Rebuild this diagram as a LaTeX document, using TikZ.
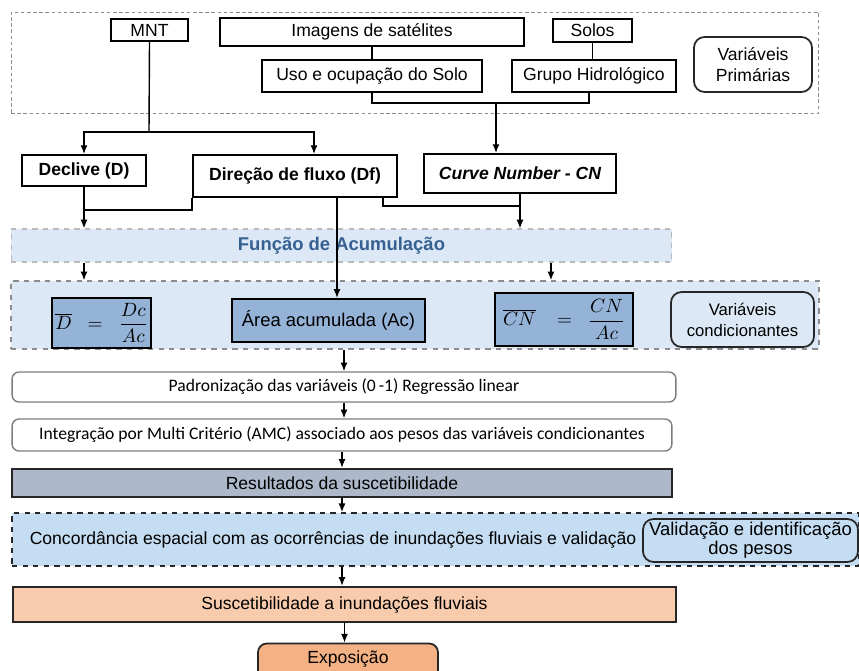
\documentclass[tikz,border=0pt]{standalone}
\usepackage{fontspec}
\setmainfont{Liberation Sans}
\newfontfamily\calibrifont{Carlito}
\usetikzlibrary{arrows.meta, positioning, calc}
\definecolor{framegray}{RGB}{140, 140, 140}
\definecolor{funcbg}{RGB}{220, 232, 245}
\definecolor{functext}{RGB}{54, 96, 146}
\definecolor{varblue}{RGB}{149, 179, 215}
\definecolor{resgray}{RGB}{173, 185, 202}
\definecolor{concbg}{RGB}{197, 221, 242}
\definecolor{suscpeach}{RGB}{248, 203, 173}
\definecolor{expopeach}{RGB}{244, 177, 131}
\definecolor{boxgray}{RGB}{125, 125, 125}

\begin{document}
\begin{tikzpicture}[x=0.02cm, y=-0.02cm, >={Latex[length=5pt,width=4pt]},
    primbox/.style={draw=black, line width=1pt, fill=white, inner sep=0pt, font=\fontsize{10}{12}\selectfont},
    mainbox/.style={draw=black, line width=1.1pt, fill=white, inner sep=0pt, font=\fontsize{10}{12}\selectfont\bfseries},
    notebox/.style={draw=black!85, line width=1pt, rounded corners=6pt, align=center, inner sep=0pt, font=\fontsize{10}{12}\selectfont},
    varbox/.style={draw=black, line width=1.3pt, fill=varblue, inner sep=0pt, font=\fontsize{10.5}{12}\selectfont},
    stepwhite/.style={draw=boxgray, line width=0.8pt, fill=white, rounded corners=4pt, inner sep=0pt, font=\calibrifont\fontsize{10}{12}\selectfont},
    stepfill/.style={draw=black!85, line width=1.3pt, inner sep=0pt, font=\fontsize{10}{12}\selectfont}]

    \clip (0,0) rectangle (859,670);

    % Variáveis primárias
    \node[draw=framegray, dashed, dash pattern=on 2pt off 1.5pt, line width=0.5pt, minimum width=16.16cm, minimum height=2.02cm] (prim) at (415,62.5) {};
    \node[primbox, minimum width=1.54cm, minimum height=0.44cm] (mnt) at (149.5,30) {MNT};
    \node[primbox, minimum width=6.08cm, minimum height=0.56cm] (img) at (372,32) {Imagens de satélites};
    \node[primbox, minimum width=4.4cm, minimum height=0.64cm] (uso) at (372,76) {Uso e ocupação do Solo};
    \node[primbox, minimum width=1.58cm, minimum height=0.46cm] (solos) at (592.5,30.5) {Solos};
    \node[primbox, minimum width=3.28cm, minimum height=0.64cm] (grupo) at (594,76) {Grupo Hidrológico};
    \node[notebox, fill=white, minimum width=2.36cm, minimum height=1.1cm] (primnote) at (753,64.5) {Variáveis\\Primárias};

    % Variáveis derivadas
    \node[mainbox, minimum width=2.48cm, minimum height=0.62cm] (declive) at (84,170.5) {Declive (D)};
    \node[mainbox, minimum width=4.08cm, minimum height=0.84cm] (direcao) at (295,176) {Direção de fluxo (Df)};
    \node[mainbox, minimum width=3.84cm, minimum height=0.78cm] (curve) at (520,173.5) {\itshape Curve Number - CN};

    % Função de acumulação
    \node[draw=framegray!60, dashed, line width=0.6pt, fill=funcbg, text=functext, minimum width=13.22cm, minimum height=0.66cm, font=\fontsize{10.5}{12}\selectfont\bfseries] (funcao) at (341.5,245.5) {Função de Acumulação};

    % Variáveis condicionantes
    \node[draw=framegray, dashed, line width=0.8pt, fill=funcbg, minimum width=16.16cm, minimum height=1.36cm] (cond) at (415,315) {};
    \node[varbox, minimum width=1.98cm, minimum height=1.0cm] (dbar) at (101.5,323) {$\overline{D}\;\;=\;\;\displaystyle\frac{Dc}{Ac}$};
    \node[varbox, minimum width=3.86cm, minimum height=0.86cm] (area) at (328.5,320.5) {Área acumulada (Ac)};
    \node[varbox, minimum width=2.76cm, minimum height=1.06cm] (cnbar) at (564,319.5) {$\overline{CN}\;\;\;=\;\;\displaystyle\frac{CN}{Ac}$};
    \node[notebox, fill=funcbg, minimum width=2.86cm, minimum height=1.1cm, font=\fontsize{9.5}{12}\selectfont] (condnote) at (742.5,319.5) {Variáveis\\condicionantes};

    % Etapas
    \node[stepwhite, minimum width=13.28cm, minimum height=0.6cm] (padron) at (344,387) {Padronização das variáveis (0\,-1) Regressão linear};
    \node[stepwhite, minimum width=13.2cm, minimum height=0.64cm] (integ) at (342,435) {Integração por Multi Critério (AMC) associado aos pesos das variáveis condicionantes};
    \node[stepfill, fill=resgray, minimum width=13.2cm, minimum height=0.56cm] (result) at (342,483) {Resultados da suscetibilidade};
    \node[draw=black!85, dashed, line width=0.9pt, fill=concbg, minimum width=16.94cm, minimum height=1.06cm] (concord) at (435.5,539.5) {};
    \node[font=\fontsize{10}{12}\selectfont] (concordtxt) at (333,540) {Concordância espacial com as ocorrências de inundações fluviais e validação};
    \node[notebox, fill=concbg, minimum width=4.3cm, minimum height=0.86cm, font=\fontsize{10.5}{11}\selectfont] (valid) at (750.5,540.5) {Validação e identificação\\dos pesos};
    \node[stepfill, fill=suscpeach, minimum width=13.26cm, minimum height=0.7cm] (suscet) at (344.5,604.5) {Suscetibilidade a inundações fluviais};
    \node[stepfill, fill=expopeach, rounded corners=5pt, line width=1pt, minimum width=3.6cm, minimum height=0.9cm, text depth=0.35cm] (expo) at (348,666) {Exposição};

    % Ligações
    \coordinate (mntj) at (149,132);
    \draw[line width=0.8pt] (mnt.south) -- (mntj);
    \draw[->, line width=0.8pt] (mntj) -| (declive.north);
    \draw[->, line width=0.8pt] (mntj) -| ([xshift=0.38cm]direcao.north);
    \draw[line width=0.8pt] (img.south) -- (uso.north);
    \draw[line width=0.8pt] (solos.south) -- (solos.south |- grupo.north);
    \coordinate (cnj) at (496,103);
    \draw[line width=0.8pt] (uso.south) |- (cnj) -| ([xshift=-0.1cm]grupo.south);
    \draw[->, line width=0.8pt] (cnj) -- (cnj |- curve.north);

    \coordinate (dfl) at (84,210);
    \coordinate (dfr) at (520,206);
    \draw[line width=0.8pt] (direcao.south west) |- (dfl);
    \draw[line width=0.8pt] ([xshift=-0.3cm]direcao.south east) |- (dfr);
    \draw[->, line width=0.8pt] (declive.south) -- (declive.south |- funcao.north);
    \draw[->, line width=0.8pt] (curve.south) -- (curve.south |- funcao.north);
    \draw[->, line width=0.8pt] ([xshift=0.84cm]direcao.south) -- ([xshift=0.84cm]direcao.south |- area.north);
    \draw[->, line width=0.8pt] (funcao.south -| declive.south) -- (cond.north -| declive.south);
    \draw[->, line width=0.8pt] ([xshift=4.19cm]funcao.south) -- ([xshift=4.19cm]funcao.south |- cond.north);

    \draw[->, line width=0.8pt] (cond.south -| padron.north) -- (padron.north);
    \draw[->, line width=0.8pt] (padron.south) -- (padron.south |- integ.north);
    \draw[->, line width=0.8pt] (integ.south) -- (integ.south |- result.north);
    \draw[->, line width=0.8pt] (result.south) -- (result.south |- concord.north);
    \draw[->, line width=0.8pt] (result.south |- concord.south) -- (result.south |- suscet.north);
    \draw[->, line width=0.8pt] (suscet.south) -- (suscet.south |- expo.north);
\end{tikzpicture}
\end{document}
